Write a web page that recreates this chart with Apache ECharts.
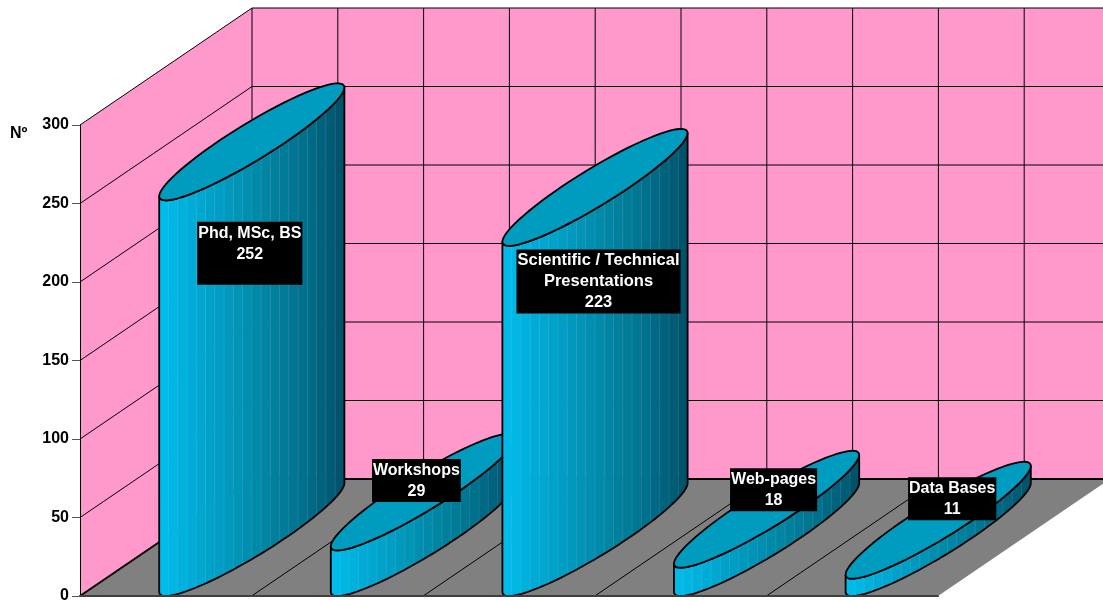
<!DOCTYPE html>
<html><head><meta charset="utf-8">
<style>html,body{margin:0;padding:0;background:#fff}#c{width:1103px;height:600px}</style>
<script src="https://cdn.jsdelivr.net/npm/echarts@6/dist/echarts.min.js"></script>
</head><body><div id="c"></div>
<script>
const categories = ['Phd, MSc, BS', 'Workshops', 'Scientific / Technical\nPresentations', 'Web-pages', 'Data Bases'];
const values = [252, 29, 223, 18, 11];
const yTicks = [0, 50, 100, 150, 200, 250, 300];
const yAxisTitle = 'Nº';

// projection of the chart's depth, and label placement relative to each cylinder's top
const DEPTH_X = 172, DEPTH_Y = -117, GAP_RATIO = 2.5;
const LABEL_DX = [-2, -7, 3.5, 7, 14];
const LABEL_DY = [80, -33, 62, -41, -43];
const LABEL_BOTTOM_PAD = [20, 0, 0, 0, 0];
const LABEL_FONT_SIZE = [16, 16, 16.5, 16, 16];
const FONT = '"Liberation Sans", Arial, sans-serif';
const WALL = '#FF99CC', FLOOR = '#808080', TOP = '#009CBF';
const SHADES = ['#00BDEC', '#00A9D4', '#0096BA', '#0082A0', '#006E8A', '#004F66'];

const chart = echarts.init(document.getElementById('c'), null, {renderer: 'canvas'});

function line(a, b, w) {
  return {type: 'line', shape: {x1: a[0], y1: a[1], x2: b[0], y2: b[1]},
    style: {stroke: '#000', lineWidth: w || 1, fill: null}, silent: true};
}
function poly(points, fill, stroke, w) {
  return {type: 'polygon', shape: {points},
    style: {fill: fill || 'none', stroke: stroke || 'none', lineWidth: w || 1, lineJoin: 'round'}, silent: true};
}

function renderRoom(params, api) {
  const n = categories.length;
  const band = api.size([1, 0])[0];
  const o = api.coord([0, 0]);
  const x0 = o[0] - band / 2, x1 = x0 + band * n;
  const y0 = o[1];
  const top = api.coord([0, yTicks[yTicks.length - 1]])[1];
  const kids = [
    poly([[x0, y0], [x0 + DEPTH_X, y0 + DEPTH_Y], [x0 + DEPTH_X, top + DEPTH_Y], [x0, top]], WALL),
    poly([[x0 + DEPTH_X, top + DEPTH_Y], [x1 + DEPTH_X, top + DEPTH_Y], [x1 + DEPTH_X, y0 + DEPTH_Y], [x0 + DEPTH_X, y0 + DEPTH_Y]], WALL),
    poly([[x0, y0], [x1, y0], [x1 + DEPTH_X, y0 + DEPTH_Y], [x0 + DEPTH_X, y0 + DEPTH_Y]], FLOOR)
  ];
  yTicks.forEach(function (t) {
    const y = api.coord([0, t])[1];
    kids.push(line([x0, y], [x0 + DEPTH_X, y + DEPTH_Y], t === 0 ? 2 : 1));
    kids.push(line([x0 + DEPTH_X, y + DEPTH_Y], [x1 + DEPTH_X, y + DEPTH_Y], t === 0 ? 2 : 1));
  });
  for (let i = 0; i <= n * 2; i++) {
    const x = x0 + band * i / 2 + DEPTH_X;
    kids.push(line([x, top + DEPTH_Y], [x, y0 + DEPTH_Y]));
  }
  for (let i = 1; i < n; i++) {
    const x = x0 + band * i;
    kids.push(line([x, y0], [x + DEPTH_X, y0 + DEPTH_Y]));
  }
  return {type: 'group', children: kids};
}

function renderCylinder(params, api) {
  const cat = api.value(0), val = api.value(1);
  const base = api.coord([cat, 0]);
  const head = api.coord([cat, val]);
  const w = api.size([1, 0])[0] / GAP_RATIO / 2;
  const hx = DEPTH_X / 2, hy = DEPTH_Y / 2;
  const alpha = Math.atan2(hx, w);
  const pt = function (t, y) {
    return [base[0] + hx + w * Math.cos(t) + hx * Math.sin(t), y + hy + hy * Math.sin(t)];
  };
  // parameter along the visible front arc for a horizontal fraction f
  const tAt = function (f) { return alpha + 2 * Math.PI - Math.acos(-1 + 2 * f); };
  const kids = [];
  const N = 20, SUB = 8;
  for (let i = 0; i < N; i++) {
    const a = tAt(i / N), b = tAt((i + 1) / N);
    const upper = [], lower = [];
    for (let k = 0; k <= SUB; k++) {
      const t = a + (b - a) * k / SUB;
      upper.push(pt(t, head[1]));
      lower.unshift(pt(t, base[1]));
    }
    const c = echarts.color.lerp((i + 0.5) / N, SHADES);
    kids.push(poly(upper.concat(lower), c, c, 0.5));
    if (i > 0) {
      const p = pt(a, head[1]), q = pt(a, base[1]);
      kids.push({type: 'line', shape: {x1: p[0], y1: p[1], x2: q[0], y2: q[1]},
        style: {stroke: 'rgba(255,255,255,0.1)', lineWidth: 1}, silent: true});
    }
  }
  const up = [], low = [], ell = [];
  for (let k = 0; k <= 72; k++) {
    const t = tAt(0) + Math.PI * k / 72;
    up.push(pt(t, head[1]));
    low.unshift(pt(t, base[1]));
    ell.push(pt(tAt(0) + 2 * Math.PI * k / 72, head[1]));
  }
  kids.push(poly(up.concat(low), null, '#000', 1.8));
  kids.push(poly(ell, TOP, '#000', 1.8));
  return {type: 'group', children: kids};
}

function renderLabel(params, api) {
  const i = params.dataIndex;
  const cat = api.value(0), val = api.value(1);
  const p = api.coord([cat, val]);
  return {
    type: 'text', silent: true,
    style: {
      x: p[0] + DEPTH_X / 2 + LABEL_DX[i],
      y: p[1] + DEPTH_Y / 2 + LABEL_DY[i],
      text: categories[i] + '\n' + val,
      fill: '#fff',
      font: 'bold ' + LABEL_FONT_SIZE[i] + 'px ' + FONT,
      lineHeight: 21,
      align: 'center',
      verticalAlign: 'top',
      backgroundColor: '#000',
      padding: [1, 1, LABEL_BOTTOM_PAD[i], 1]
    }
  };
}

const barData = values.map(function (v, i) { return [i, v]; });

chart.setOption({
  animation: false,
  backgroundColor: '#fff',
  tooltip: {show: false},
  title: {text: yAxisTitle, left: 10, top: 126, padding: 0,
    textStyle: {fontFamily: FONT, fontWeight: 'bold', fontSize: 16, color: '#000'}},
  grid: {left: 80, top: 125, width: 858, height: 471, containLabel: false, outerBoundsMode: 'none'},
  xAxis: {type: 'category', data: categories, z: 10,
    axisLine: {lineStyle: {color: '#404040', width: 2}},
    axisTick: {show: false}, axisLabel: {show: false}, splitLine: {show: false}},
  yAxis: {type: 'value', min: 0, max: 300, interval: 50, z: 10,
    axisLine: {show: true, lineStyle: {color: '#000', width: 1}},
    axisTick: {show: true, length: 8, lineStyle: {color: '#555', width: 1}},
    axisLabel: {margin: 11, padding: [2, 0, 0, 0], color: '#000', fontFamily: FONT, fontWeight: 'bold', fontSize: 16},
    splitLine: {show: false}},
  series: [
    {type: 'custom', name: 'room', coordinateSystem: 'cartesian2d', data: [[0, 0]],
      encode: {x: 0, y: 1}, renderItem: renderRoom, silent: true, z: 1},
    {type: 'custom', name: 'values', coordinateSystem: 'cartesian2d', data: barData,
      encode: {x: 0, y: 1}, renderItem: renderCylinder, silent: true, z: 2},
    {type: 'custom', name: 'labels', coordinateSystem: 'cartesian2d', data: barData,
      encode: {x: 0, y: 1}, renderItem: renderLabel, silent: true, z: 30}
  ]
});
</script></body></html>
